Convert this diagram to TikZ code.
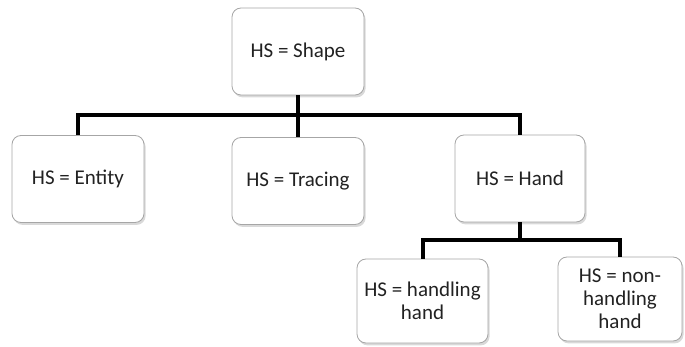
\documentclass[tikz,border=0pt]{standalone}
\usepackage{fontspec}
\setmainfont{Carlito}
\usepackage{tikz}
\usetikzlibrary{shadows}
\definecolor{edge}{HTML}{A6A6A6}
\definecolor{ink}{HTML}{222222}
\tikzset{
  hsbox/.style={draw=edge,fill=white,rounded corners=4.5pt,align=center,
    minimum width=66pt,minimum height=43.5pt,inner sep=2pt,text=ink,
    font=\fontsize{10.5}{11.6}\selectfont,
    drop shadow={opacity=0.3,shadow xshift=0.8pt,shadow yshift=-1.2pt}},
  link/.style={draw=black,line width=2pt}
}
\begin{document}
\begin{tikzpicture}[x=0.5pt,y=-0.5pt]
  \useasboundingbox (0,0) rectangle (685,347);
  \node[hsbox] (shape) at (298,51.5) {HS = Shape};
  \node[hsbox] (entity) at (78,179) {HS = Entity};
  \node[hsbox] (tracing) at (298,181) {HS = Tracing};
  \node[hsbox,minimum width=65pt] (hand) at (520,178.5) {HS = Hand};
  \node[hsbox,minimum width=65.5pt,minimum height=42pt] (handling) at (422.5,301) {HS = handling\\hand};
  \node[hsbox,minimum width=62pt,minimum height=42pt] (nonhand) at (620,299) {HS = non-\\handling\\hand};
  \coordinate (bus1) at (0,115);
  \coordinate (bus2) at (0,240);
  \draw[link] (shape.south) -- (tracing.north);
  \draw[link] (entity.north) |- (hand.north |- bus1) -- (hand.north);
  \draw[link] (hand.south) -- (hand.south |- bus2);
  \draw[link] (handling.north) |- (nonhand.north |- bus2) -- (nonhand.north);
\end{tikzpicture}
\end{document}
